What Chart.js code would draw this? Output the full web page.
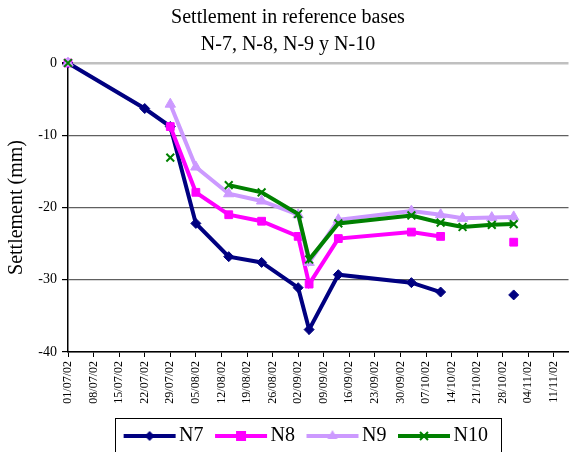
<!DOCTYPE html>
<html>
<head>
<meta charset="utf-8">
<title>Settlement in reference bases</title>
<script src="https://cdn.jsdelivr.net/npm/chart.js@4.4.0/dist/chart.umd.min.js"></script>
<style>
  html, body { margin: 0; padding: 0; background: #fff; }
  #wrap { width: 576px; height: 452px; }
</style>
</head>
<body>
<div id="wrap"><canvas id="settlement-chart" width="576" height="452"></canvas></div>
<script>
// reading dates (dd/mm/yy) and settlement in mm, null = no reading that day
const dates = ['01/07/02', '22/07/02', '29/07/02', '05/08/02', '14/08/02', '23/08/02', '02/09/02',
               '05/09/02', '13/09/02', '03/10/02', '11/10/02', '17/10/02', '25/10/02', '31/10/02'];
const n7  = [0, -6.3, -8.8, -22.2, -26.8, -27.6, -31.1, -36.9, -29.3, -30.4, -31.7, null, null, -32.1];
const n8  = [0, null, -8.8, -17.9, -21.0, -21.9, -24.0, -30.6, -24.3, -23.4, -24.0, null, null, -24.8];
const n9  = [0, null, -5.7, -14.4, -18.1, -19.1, -21.0, -27.6, -21.7, -20.5, -21.0, -21.5, -21.4, -21.3];
const n10 = [0, null, -13.1, null, -16.9, -17.9, -20.9, -27.2, -22.2, -21.1, -22.1, -22.7, -22.4, -22.3];

const axisStart = '01/07/02';   // first tick, ticks every 7 days
const axisEnd = 137;            // days shown after axisStart
const serif = "'Liberation Serif', 'Times New Roman', serif";
const DAY = 86400000;

function toTime(s) {
  const p = s.split('/');
  return Date.UTC(2000 + Number(p[2]), Number(p[1]) - 1, Number(p[0]));
}
const t0 = toTime(axisStart);
const dayOf = s => Math.round((toTime(s) - t0) / DAY);
const pad = n => (n < 10 ? '0' : '') + n;
function dateLabel(day) {
  const d = new Date(t0 + day * DAY);
  return pad(d.getUTCDate()) + '/' + pad(d.getUTCMonth() + 1) + '/' + pad(d.getUTCFullYear() % 100);
}
const points = vals => dates.map((s, i) => ({ x: dayOf(s), y: vals[i] }));

// legend icon: line with the marker in the middle (Excel style)
function legendIcon(color, style) {
  const c = document.createElement('canvas');
  c.width = 66; c.height = 14;
  const g = c.getContext('2d');
  g.strokeStyle = color; g.fillStyle = color; g.lineWidth = 4;
  g.beginPath(); g.moveTo(13, 7); g.lineTo(65, 7); g.stroke();
  const cx = 39, cy = 7;
  g.beginPath();
  if (style === 'rectRot') {
    g.moveTo(cx, cy - 5); g.lineTo(cx + 5, cy); g.lineTo(cx, cy + 5); g.lineTo(cx - 5, cy); g.closePath(); g.fill();
  } else if (style === 'rect') {
    g.fillRect(cx - 5, cy - 5, 10, 10);
  } else if (style === 'triangle') {
    g.moveTo(cx, cy - 6); g.lineTo(cx + 5, cy + 3); g.lineTo(cx - 5, cy + 3); g.closePath(); g.fill();
  } else {
    g.lineWidth = 2;
    g.moveTo(cx - 4, cy - 4); g.lineTo(cx + 4, cy + 4);
    g.moveTo(cx + 4, cy - 4); g.lineTo(cx - 4, cy + 4); g.stroke();
  }
  return c;
}

const series = [
  { label: 'N7',  data: n7,  color: '#000080', style: 'rectRot',  radius: 5 },
  { label: 'N8',  data: n8,  color: '#FF00FF', style: 'rect',     radius: 5.5 },
  { label: 'N9',  data: n9,  color: '#CC99FF', style: 'triangle', radius: 6 },
  { label: 'N10', data: n10, color: '#008000', style: 'crossRot', radius: 5.5 }
];
const icons = series.map(s => legendIcon(s.color, s.style));

// box round the legend, like the Excel one
const legendBox = {
  id: 'legendBox',
  afterLayout(chart) {
    chart.legend.left += 30;
    chart.legend.top += 4;
  },
  afterDraw(chart) {
    const hb = chart.legend.legendHitBoxes;
    if (!hb || !hb.length) return;
    const left = hb[0].left - 3;
    const last = hb[hb.length - 1];
    const right = last.left + last.width + 13;
    const top = hb[0].top - 8;
    const ctx = chart.ctx;
    ctx.save();
    ctx.strokeStyle = '#000';
    ctx.lineWidth = 1;
    ctx.strokeRect(Math.round(left) + 0.5, Math.round(top) + 0.5, Math.round(right - left), 60);
    ctx.restore();
  }
};

const ctx = document.getElementById('settlement-chart').getContext('2d');
new Chart(ctx, {
  type: 'line',
  data: {
    datasets: series.map((s, i) => ({
      label: s.label,
      data: points(s.data),
      borderColor: s.color,
      backgroundColor: s.color,
      borderWidth: 4,
      pointStyle: s.style,
      pointRadius: s.radius,
      pointBackgroundColor: s.color,
      pointBorderColor: s.color,
      pointBorderWidth: s.style === 'crossRot' ? 2 : 1,
      spanGaps: false,
      tension: 0,
      clip: false,
      order: series.length - i
    }))
  },
  options: {
    responsive: false,
    animation: false,
    events: [],
    layout: { padding: 0 },
    plugins: {
      title: {
        display: true,
        text: ['Settlement in reference bases', 'N-7, N-8, N-9 y N-10'],
        color: '#000',
        font: { family: serif, size: 20, weight: 'normal', lineHeight: 1.35 },
        padding: { top: 4, bottom: 5 }
      },
      legend: {
        display: true,
        position: 'bottom',
        labels: {
          usePointStyle: true,
          pointStyleWidth: 51,
          padding: 6,
          color: '#000',
          font: { family: serif, size: 20 },
          sort: (a, b) => a.datasetIndex - b.datasetIndex,
          generateLabels(chart) {
            const items = Chart.defaults.plugins.legend.labels.generateLabels(chart);
            items.forEach(it => { it.pointStyle = icons[it.datasetIndex]; it.rotation = 0; });
            return items;
          }
        }
      },
      tooltip: { enabled: false }
    },
    scales: {
      x: {
        type: 'linear',
        min: 0,
        max: axisEnd,
        afterFit: scale => { scale.height = 64; },
        border: { display: true, color: '#000', width: 1.5 },
        grid: { drawOnChartArea: false, drawTicks: true, tickLength: 5, color: '#000' },
        ticks: {
          stepSize: 7,
          includeBounds: false,
          autoSkip: false,
          minRotation: 90,
          maxRotation: 90,
          padding: 4,
          color: '#000',
          font: { family: serif, size: 12 },
          callback: v => dateLabel(v)
        }
      },
      y: {
        min: -40,
        max: 0,
        afterFit: scale => { scale.width = 68; },
        border: { display: true, color: '#000', width: 1.5 },
        grid: {
          color: c => (c.tick && c.tick.value === 0 ? '#c0c0c0' : '#606060'),
          lineWidth: c => (c.tick && c.tick.value === 0 ? 2.5 : 1.2),
          tickColor: '#000',
          tickLength: 6
        },
        ticks: {
          stepSize: 10,
          padding: 5,
          color: '#000',
          font: { family: serif, size: 14 }
        },
        title: {
          display: true,
          text: 'Settlement (mm)',
          color: '#000',
          font: { family: serif, size: 20 },
          padding: { top: 5, bottom: 0 }
        }
      }
    }
  },
  plugins: [legendBox]
});
</script>
</body>
</html>
